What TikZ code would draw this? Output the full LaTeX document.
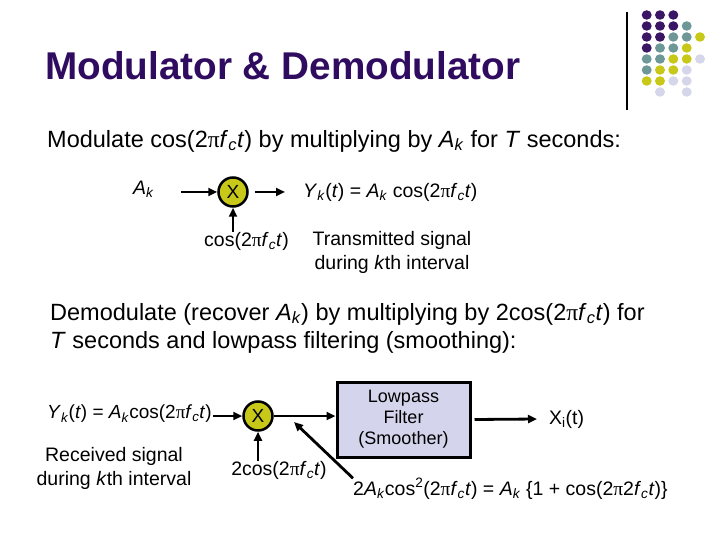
\documentclass[tikz,border=0pt]{standalone}
\usepackage{fontspec}
\setmainfont{Liberation Sans}
\newfontfamily\serifpi{Liberation Serif}
\usetikzlibrary{arrows.meta,shapes.geometric}
\definecolor{titlec}{RGB}{48,12,96}
\definecolor{dpur}{RGB}{58,22,100}
\definecolor{dteal}{RGB}{110,152,152}
\definecolor{dyel}{RGB}{200,200,24}
\definecolor{dlav}{RGB}{214,214,234}
\definecolor{boxfill}{RGB}{212,212,236}
\newcommand{\pii}{{\serifpi π}}
\newcommand{\Ak}{\textit{A}\textsubscript{\textit{k}}}
\newcommand{\fct}{\textit{f}\textsubscript{\textit{c}}\textit{t}}
\tikzset{
  body/.style={font=\fontsize{23.5}{28}\selectfont, inner sep=0, anchor=west},
  lbl/.style={font=\fontsize{19.5}{24}\selectfont, inner sep=0},
  mult/.style={circle, draw=black, line width=2.5pt, fill=dyel, minimum size=29pt, inner sep=0, font=\fontsize{19}{20}\selectfont},
  arr/.style={line width=2.8pt, -{Triangle[length=9pt,width=8pt]}},
  lpfbox/.style={draw=black, line width=3pt, fill=boxfill, minimum width=133pt, minimum height=75pt, align=center, font=\fontsize{18}{21}\selectfont},
  dot/.style={ellipse, minimum width=10pt, minimum height=9.5pt, inner sep=0}
}
\begin{document}
\begin{tikzpicture}[x=1pt,y=-1pt]
\useasboundingbox (0,0) rectangle (720,540);
\fill[white] (0,0) rectangle (720,540);
% decoration
\draw[line width=1.5pt] (627,12) -- (627,110);
\foreach \c/\x/\y in {dpur/646.7/15, dpur/660/15, dpur/673.3/15,
  dpur/646.7/26, dpur/660/26, dpur/673.3/26, dteal/686.7/26,
  dpur/646.7/37, dpur/660/37, dteal/673.3/37, dteal/686.7/37, dyel/700/37,
  dpur/646.7/48, dteal/660/48, dteal/673.3/48, dyel/686.7/48,
  dteal/646.7/59, dteal/660/59, dyel/673.3/59, dyel/686.7/59, dlav/700/59,
  dteal/646.7/70, dyel/660/70, dyel/673.3/70, dlav/686.7/70,
  dyel/646.7/81, dyel/660/81, dlav/673.3/81, dlav/686.7/81,
  dlav/660/92, dlav/686.7/92}
  \node[dot, fill=\c] at (\x,\y) {};
% title
\node[font=\fontsize{38.7}{42}\selectfont\bfseries, text=titlec, anchor=west, inner sep=0] (title) at (45,66) {Modulator \& Demodulator};
\node[body] (mod) at (47,141) {Modulate cos(2\pii\fct) by multiplying by \Ak{} for \textit{T} seconds:};
% modulator
\node[lbl, anchor=west] (ak) at (133,189) {\Ak};
\node[mult] (m1) at (233,192) {X};
\node[lbl, anchor=west] (y1) at (303,192) {\textit{Y}\textsubscript{\textit{k}}(\textit{t}) = \Ak{} cos(2\pii\fct)};
\node[lbl, anchor=west] (c1) at (204,241) {cos(2\pii\fct)};
\node[lbl, align=center] (tx) at (392,252) {Transmitted signal\\during \textit{k}th interval};
\draw[arr] ([xshift=27pt]ak.east |- m1.west) -- (m1.west);
\draw[arr] ([xshift=6pt]m1.east) -- ([xshift=-18pt]m1.east -| y1.west);
\draw[arr] (m1.south |- c1.north) -- (m1.south);
% demodulator
\node[body] (dem) at (50,314) {Demodulate (recover \Ak) by multiplying by 2cos(2\pii\fct) for};
\node[body] (dem2) at (50,342) {\textit{T} seconds and lowpass filtering (smoothing):};
\node[lbl, anchor=west, font=\fontsize{19}{24}\selectfont] (y2) at (47,414) {\textit{Y}\textsubscript{\textit{k}}(\textit{t}) = \Ak cos(2\pii\fct)};
\node[mult] (m2) at (258,416) {X};
\node[lbl, align=center] (rx) at (114,468) {Received signal\\during \textit{k}th interval};
\node[lbl] (c2) at (279,470) {2cos(2\pii\fct)};
\node[lpfbox] (lpf) at (403.5,419.5) {Lowpass\\Filter\\(Smoother)};
\node[lbl, anchor=west] (x2) at (549,419) {X\textsubscript{i}(t)};
\node[lbl, anchor=west] (eq) at (353,489) {2\Ak cos\textsuperscript{2}(2\pii\fct) = \Ak{} \{1 + cos(2\pii2\fct)\}};
\coordinate (tip) at (294,422);
\draw[arr] ([xshift=1pt]y2.east |- m2.west) -- (m2.west);
\draw[arr] (m2.east) -- (m2.east -| lpf.west);
\draw[arr] (m2.south |- c2.north) -- (m2.south);
\draw[arr] ([xshift=3pt]lpf.east) -- ([xshift=-12pt]x2.west);
\draw[arr] (eq.north west) -- (tip);
\end{tikzpicture}
\end{document}
